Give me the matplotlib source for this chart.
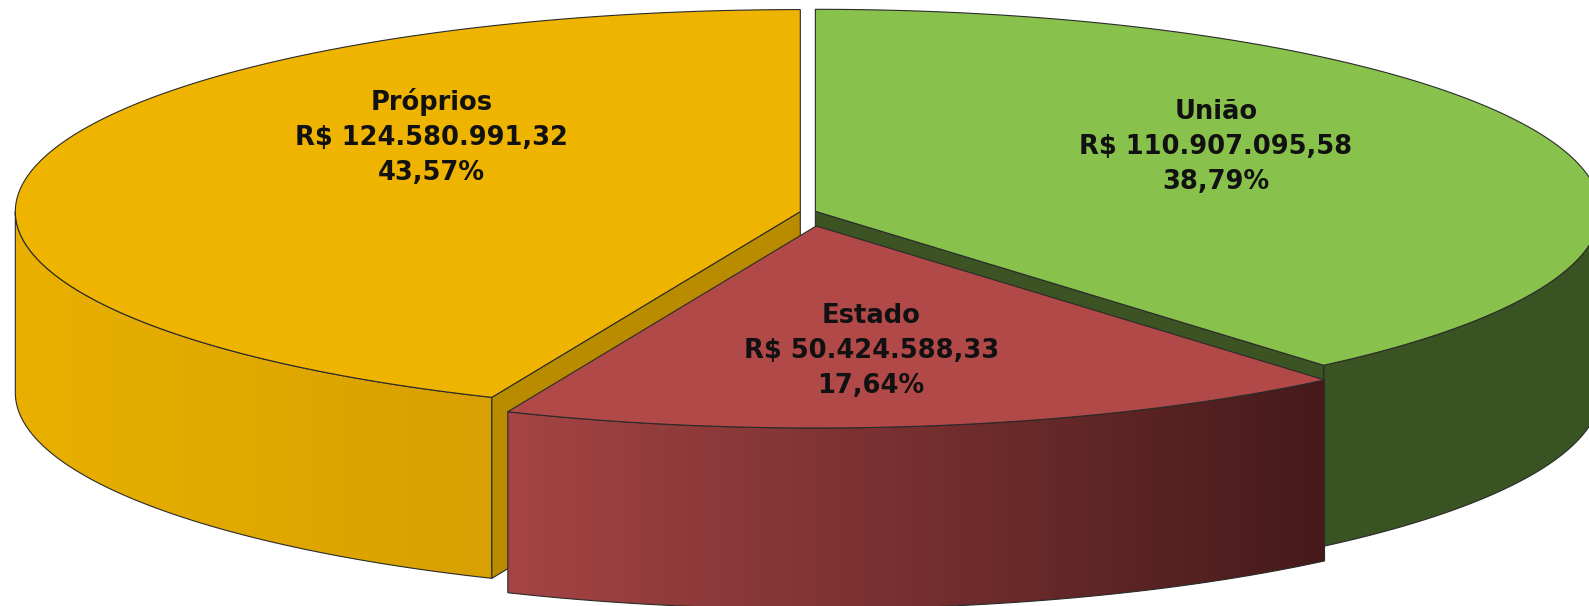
import numpy as np
import matplotlib.pyplot as plt
from matplotlib.patches import Polygon
from matplotlib.colors import LinearSegmentedColormap

# dados do grafico (fontes de recursos)
labels = ['União', 'Estado', 'Próprios']
values = [110907095.58, 50424588.33, 124580991.32]

# estilo de cada fatia
explode = [0.01, 0.07, 0.01]
top_colors = ['#88C14B', '#B14949', '#EEB400']
side_left = ['#3B5423', '#A54444', '#E9B000']
side_right = ['#3A5322', '#461A1A', '#D8A000']
cut_colors = ['#3C5424', '#8A3333', '#B98C00']
label_pos = [(0.51, 0.32), (0.07, -0.62), (-0.47, 0.37)]

# geometria da pizza 3D (pixels)
cx, cy, a, b, depth = 808, 212, 785, 202, 181
edge = '#2a2a2a'


def arc(ox, oy, t0, t1, n=240):
    t = np.radians(np.linspace(t0, t1, n))
    return ox + a * np.cos(t), oy - b * np.sin(t)


def front_ranges(s, e):
    # partes da borda que ficam na frente (sin < 0)
    out = []
    for k in range(-2, 3):
        lo, hi = max(s, -180 + 360 * k), min(e, 360 * k)
        if hi > lo:
            out.append((lo, hi))
    return out


def fmt_brl(v):
    return f'{v:,.2f}'.replace(',', '_').replace('.', ',').replace('_', '.')


total = sum(values)
fracs = np.array(values) / total
ends = 90 - 360 * np.concatenate([[0], np.cumsum(fracs)[:-1]])
starts = ends - 360 * fracs
mids = (starts + ends) / 2

fig = plt.figure(figsize=(15.89, 6.06), dpi=100)
ax = fig.add_axes([0, 0, 1, 1])

# desenha de tras para frente
order = sorted(range(len(values)), key=lambda i: -np.sin(np.radians(mids[i])))
for k, i in enumerate(order):
    z = 10 * (k + 1)
    m = np.radians(mids[i])
    ox = cx + explode[i] * a * np.cos(m)
    oy = cy - explode[i] * b * np.sin(m)

    # parede lateral com degrade horizontal
    cmap = LinearSegmentedColormap.from_list('s%d' % i, [side_left[i], side_right[i]])
    for lo, hi in front_ranges(starts[i], ends[i]):
        x, y = arc(ox, oy, lo, hi)
        poly = np.column_stack([np.r_[x, x[::-1]], np.r_[y, y[::-1] + depth]])
        clip = Polygon(poly, closed=True, fc='none', ec='none')
        ax.add_patch(clip)
        grad = np.linspace(0, 1, 256).reshape(1, -1)
        im = ax.imshow(grad, extent=[x.min(), x.max(), y.max() + depth, y.min()],
                       cmap=cmap, aspect='auto', zorder=z + 1, interpolation='bilinear')
        im.set_clip_path(clip)
        ax.add_patch(Polygon(poly, closed=True, fc='none', ec=edge, lw=0.8, zorder=z + 2))

    # faces de corte visiveis
    for t, sgn in ((starts[i], -1), (ends[i], 1)):
        if np.sin(np.radians(t + sgn * 90)) < 0:
            px, py = arc(ox, oy, t, t, n=1)
            face = [(ox, oy), (px[0], py[0]), (px[0], py[0] + depth), (ox, oy + depth)]
            ax.add_patch(Polygon(face, closed=True, fc=cut_colors[i], ec=edge,
                                 lw=0.8, zorder=z + 3))

    # face de cima
    x, y = arc(ox, oy, starts[i], ends[i])
    topf = np.column_stack([np.r_[ox, x], np.r_[oy, y]])
    ax.add_patch(Polygon(topf, closed=True, fc=top_colors[i], ec=edge, lw=0.8, zorder=z + 4))

    # rotulo
    pct = f'{fracs[i] * 100:.2f}'.replace('.', ',') + '%'
    txt = f'{labels[i]}\nR$ {fmt_brl(values[i])}\n{pct}'
    lx, ly = label_pos[i]
    ax.text(ox + lx * a, oy - ly * b, txt, ha='center', va='center', fontsize=18.5,
            fontweight='bold', family='DejaVu Sans', linespacing=1.45, color='#111111', zorder=200)

ax.set_xlim(0, 1589)
ax.set_ylim(606, 0)
ax.axis('off')
fig.savefig('out.png', dpi=100, facecolor='white')
